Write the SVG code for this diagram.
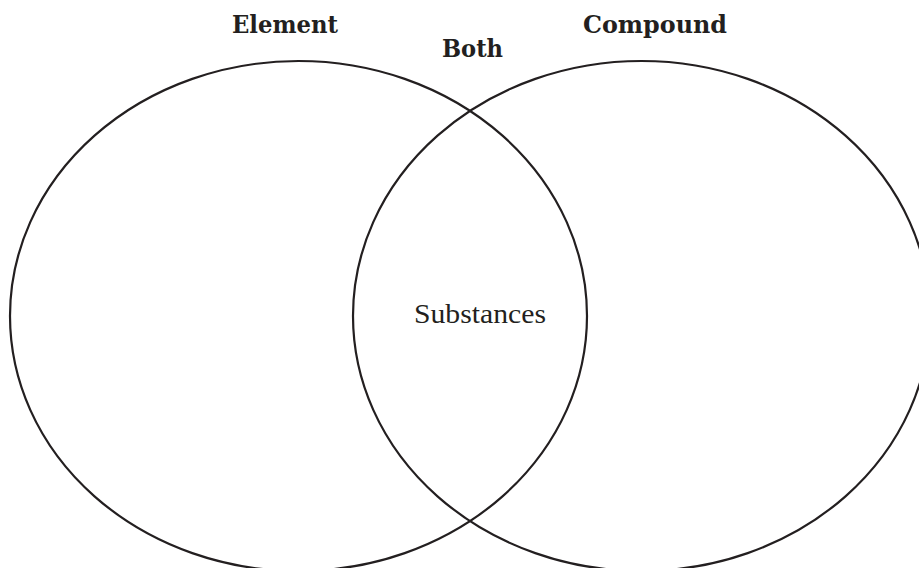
<svg xmlns="http://www.w3.org/2000/svg" width="919" height="568" viewBox="0 0 919 568">
  <style>
    .set { fill: none; stroke: #231f20; stroke-width: 2.2; }
    .head { font-family: "DejaVu Serif", "Liberation Serif", serif; font-weight: bold; font-size: 24px; fill: #231f20; }
    .item { font-family: "Liberation Serif", "DejaVu Serif", serif; font-size: 28px; fill: #231f20; }
  </style>
  <rect width="919" height="568" fill="#ffffff"/>
  <g id="element">
    <ellipse class="set" cx="298.5" cy="316" rx="288.5" ry="255"/>
    <text class="head" x="232" y="33" textLength="106" lengthAdjust="spacingAndGlyphs">Element</text>
  </g>
  <g id="compound">
    <ellipse class="set" cx="641.5" cy="316" rx="288.5" ry="255"/>
    <text class="head" x="583" y="33" textLength="144" lengthAdjust="spacingAndGlyphs">Compound</text>
  </g>
  <g id="both">
    <text class="head" x="442" y="57" textLength="61" lengthAdjust="spacingAndGlyphs">Both</text>
    <text class="item" x="414" y="323" textLength="132" lengthAdjust="spacingAndGlyphs">Substances</text>
  </g>
  <g id="connectors"/>
</svg>
